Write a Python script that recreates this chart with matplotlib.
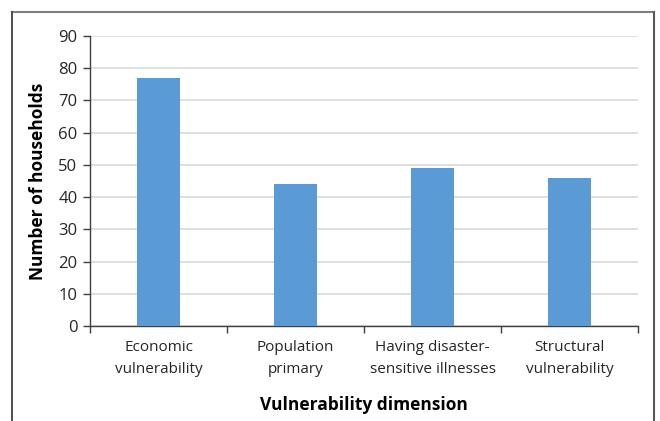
import matplotlib.pyplot as plt
import numpy as np
from matplotlib.lines import Line2D

plt.rcParams['font.family'] = ['Open Sans', 'DejaVu Sans']

categories = ['Economic\nvulnerability', 'Population\nprimary',
              'Having disaster-\nsensitive illnesses', 'Structural\nvulnerability']
households = [77, 44, 49, 46]
y_ticks = [0, 10, 20, 30, 40, 50, 60, 70, 80, 90]

fig = plt.figure(figsize=(6.6, 4.21), dpi=100)
ax = fig.add_axes([90 / 660, 1 - 326 / 421, 548 / 660, 290 / 421])

x = np.arange(len(categories))
ax.bar(x, households, width=0.31, color='#5B9BD5', zorder=3)

ax.set_xlim(-0.5, len(categories) - 0.5)
ax.set_ylim(0, 90)
ax.set_yticks(y_ticks)
ax.yaxis.grid(True, color='#D9D9D9', linewidth=1.2, zorder=0)

ax.set_xticks(x)
ax.set_xticklabels(categories, fontsize=11, color='#262626', linespacing=1.65)
ax.set_xticks(np.arange(-0.5, len(categories)), minor=True)
ax.tick_params(axis='x', which='major', length=0, pad=10)
ax.tick_params(axis='x', which='minor', length=5, width=1, color='#404040', direction='out')
ax.tick_params(axis='y', length=5, width=1, color='#404040', labelsize=12,
               labelcolor='#262626', pad=4)

for side in ['top', 'right']:
    ax.spines[side].set_visible(False)
for side in ['left', 'bottom']:
    ax.spines[side].set_color('#404040')
    ax.spines[side].set_linewidth(1)

ax.set_ylabel('Number of households', fontsize=12.5, fontweight='bold', labelpad=8)
ax.set_xlabel('Vulnerability dimension', fontsize=12.5, fontweight='bold', labelpad=14)

# frame around the figure, open at the bottom
x0, x1, ytop = 11.5 / 660, 653.5 / 660, 1 - 11.5 / 421
fig.add_artist(Line2D([x0, x1], [ytop, ytop], color='#7F7F7F', lw=1.5, transform=fig.transFigure))
fig.add_artist(Line2D([x0, x0], [ytop, 0], color='#404040', lw=1.3, transform=fig.transFigure))
fig.add_artist(Line2D([x1, x1], [ytop, 0], color='#595959', lw=1.5, transform=fig.transFigure))

plt.savefig('out.png', dpi=100)
